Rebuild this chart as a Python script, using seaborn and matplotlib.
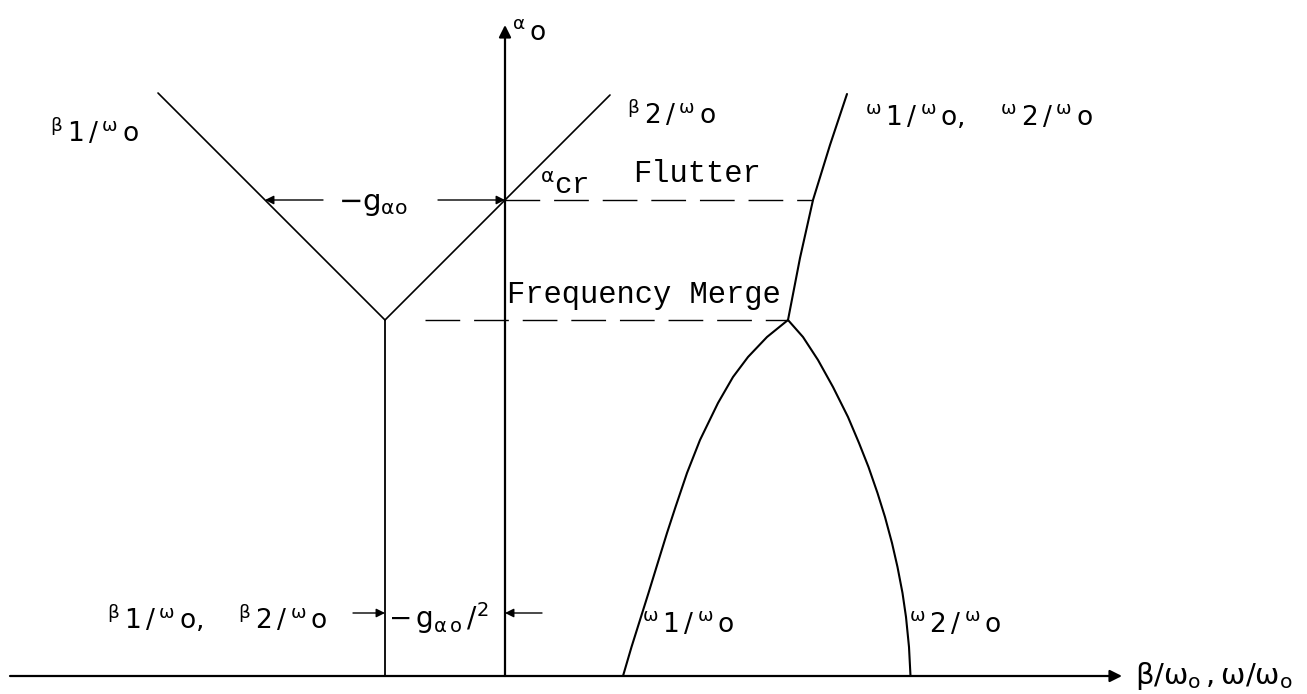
import matplotlib
matplotlib.use("Agg")
import matplotlib.pyplot as plt
import pandas as pd
import seaborn as sns

# ---- chart data (α_o vertical, β/ω_o and ω/ω_o horizontal) ----
alpha_merge = 3.56      # frequency-merge level
alpha_cr = 4.76         # flutter level
beta_split = -1.20      # β1/ω_o = β2/ω_o = -g_αo/2 below the merge
axis_x_end = 6.17
axis_x_start = -4.95
axis_y_end = 6.51

# damping branches
beta12_x = [-1.20, -1.20]
beta12_y = [0.0, 3.56]
beta1_x = [-1.20, -3.47]
beta1_y = [3.56, 5.83]
beta2_x = [-1.20, 1.05]
beta2_y = [3.56, 5.81]

# frequency branches
omega1_x = [1.18, 1.265, 1.35, 1.435, 1.515, 1.62, 1.705, 1.82, 1.95,
            2.13, 2.28, 2.43, 2.62, 2.83]
omega1_y = [0.0, 0.29, 0.56, 0.83, 1.09, 1.43, 1.69, 2.03, 2.36,
            2.73, 2.99, 3.19, 3.39, 3.56]
omega2_x = [2.83, 2.98, 3.13, 3.28, 3.43, 3.54, 3.635, 3.725, 3.80,
            3.87, 3.925, 3.975, 4.01, 4.04, 4.055]
omega2_y = [3.56, 3.39, 3.16, 2.89, 2.59, 2.33, 2.09, 1.83, 1.59,
            1.33, 1.09, 0.83, 0.59, 0.29, 0.0]
omega12_x = [2.83, 2.95, 3.08, 3.25, 3.42]
omega12_y = [3.56, 4.18, 4.76, 5.31, 5.82]

# dashed reference levels: (x start, x end, level)
flutter_line = (0.0, 3.08, alpha_cr)
merge_line = (-0.80, 2.83, alpha_merge)

sns.set_theme(style="white")
plt.rcParams["mathtext.fontset"] = "custom"
plt.rcParams["mathtext.rm"] = "DejaVu Sans"
plt.rcParams["mathtext.it"] = "DejaVu Sans"
plt.rcParams["mathtext.sf"] = "DejaVu Sans"
plt.rcParams["mathtext.tt"] = "Liberation Mono"
plt.rcParams["font.family"] = ["Liberation Mono", "DejaVu Sans"]
plt.rcParams["text.color"] = "black"

fig = plt.figure(figsize=(13.07, 6.94), dpi=100)
ax = fig.add_axes([0, 0, 1, 1])
ax.set_xlim(-5.05, 8.02)
ax.set_ylim(-0.18, 6.76)
ax.axis("off")

segments = [
    (beta12_x, beta12_y, 1.3),
    (beta1_x, beta1_y, 1.2),
    (beta2_x, beta2_y, 1.2),
    (omega1_x, omega1_y, 1.5),
    (omega2_x, omega2_y, 1.5),
    (omega12_x, omega12_y, 1.5),
]
for xs, ys, lw in segments:
    df = pd.DataFrame({"x": xs, "y": ys})
    sns.lineplot(data=df, x="x", y="y", sort=False, estimator=None,
                 color="black", lw=lw, ax=ax)

for x0, x1, lev in (flutter_line, merge_line):
    ax.plot([x0, x1], [lev, lev], color="black", lw=1.0,
            linestyle=(0, (25, 10)))

arrow_kw = dict(arrowstyle="-|>", color="black", lw=1.6,
                mutation_scale=18, shrinkA=0, shrinkB=0)
# coordinate axes
ax.annotate("", xy=(axis_x_end, 0), xytext=(axis_x_start, 0), arrowprops=arrow_kw)
ax.annotate("", xy=(0, axis_y_end), xytext=(0, 0), arrowprops=arrow_kw)

small_arrow = dict(arrowstyle="-|>", color="black", lw=1.0,
                   mutation_scale=13, shrinkA=0, shrinkB=0)
# -g_αo span at the flutter level
ax.annotate("", xy=(-2.40, alpha_cr), xytext=(-1.82, alpha_cr), arrowprops=small_arrow)
ax.annotate("", xy=(0.0, alpha_cr), xytext=(-0.67, alpha_cr), arrowprops=small_arrow)
# -g_αo/2 span near the base
ax.annotate("", xy=(beta_split, 0.63), xytext=(-1.52, 0.63), arrowprops=small_arrow)
ax.annotate("", xy=(0.0, 0.63), xytext=(0.37, 0.63), arrowprops=small_arrow)

b1 = r"{}^{\beta}\,1\,/\,{}^{\omega}\,o"
b2 = r"{}^{\beta}\,2\,/\,{}^{\omega}\,o"
w1 = r"{}^{\omega}\,1\,/\,{}^{\omega}\,o"
w2 = r"{}^{\omega}\,2\,/\,{}^{\omega}\,o"
sans = dict(fontsize=19, va="center", ha="left", color="black")
labels = [
    (0.07, 6.44, r"${}^{\alpha}\,o$"),
    (-4.55, 5.44, "$" + b1 + "$"),
    (1.22, 5.62, "$" + b2 + "$"),
    (3.60, 5.60, "$" + w1 + r",\quad\," + w2 + "$"),
    (-3.98, 0.58, "$" + b1 + r",\quad\," + b2 + "$"),
    (1.37, 0.52, "$" + w1 + "$"),
    (4.04, 0.52, "$" + w2 + "$"),
]
for x, y, s in labels:
    ax.text(x, y, s, **sans)

ax.text(6.30, 0.0, r"$\beta/\omega_{o}\,,\omega/\omega_{o}$",
        fontsize=21, va="center", ha="left")
ax.text(-1.67, 4.72, r"$-g_{\alpha o}$", fontsize=21, va="center", ha="left")
ax.text(-1.17, 0.58, r"$-\,g_{\alpha\,o}\,/{}^{2}$", fontsize=20,
        va="center", ha="left")
ax.text(0.35, 4.90, r"${}^{\alpha}\mathtt{cr}$", fontsize=21, va="center", ha="left")

mono = dict(fontsize=22, family="Liberation Mono", ha="left", va="baseline",
            color="black")
ax.text(1.28, 4.94, "Flutter", **mono)
ax.text(0.02, 3.73, "Frequency Merge", **mono)

fig.savefig("out.png", dpi=100, facecolor="white")
